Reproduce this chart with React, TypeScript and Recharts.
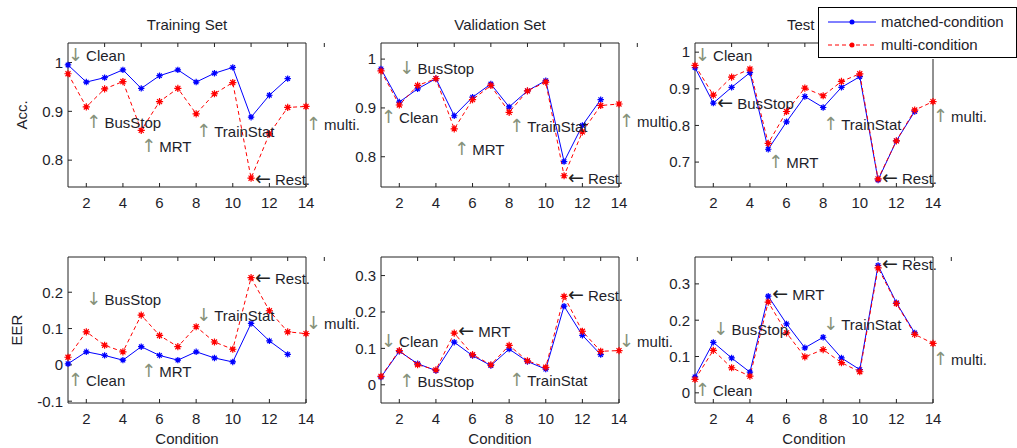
import { LineChart, Line, XAxis, YAxis, ReferenceDot, Legend } from 'recharts'

const FONT = '"Liberation Sans", Arial, sans-serif'
const ARROW_FONT = '"DejaVu Sans", sans-serif'

// condition index on the x axis
const conditions = [1, 2, 3, 4, 5, 6, 7, 8, 9, 10, 11, 12, 13, 14]
const xTicks = [2, 4, 6, 8, 10, 12, 14]

// accuracy
const trainAccMatched = [0.995, 0.96, 0.969, 0.985, 0.947, 0.973, 0.985, 0.96, 0.978, 0.99, 0.888, 0.933, 0.967]
const trainAccMulti = [0.977, 0.909, 0.946, 0.961, 0.861, 0.92, 0.947, 0.895, 0.936, 0.959, 0.763, 0.854, 0.908, 0.91]
const valAccMatched = [0.98, 0.912, 0.939, 0.96, 0.884, 0.922, 0.949, 0.902, 0.935, 0.956, 0.79, 0.864, 0.917]
const valAccMulti = [0.976, 0.906, 0.946, 0.96, 0.857, 0.917, 0.946, 0.891, 0.935, 0.953, 0.761, 0.851, 0.905, 0.908]
const testAccMatched = [0.958, 0.861, 0.904, 0.944, 0.735, 0.81, 0.879, 0.849, 0.904, 0.933, 0.651, 0.758, 0.838]
const testAccMulti = [0.964, 0.883, 0.932, 0.954, 0.751, 0.838, 0.902, 0.881, 0.92, 0.941, 0.654, 0.758, 0.842, 0.865]

// equal error rate
const trainEerMatched = [0.003, 0.036, 0.026, 0.013, 0.05, 0.026, 0.013, 0.036, 0.019, 0.008, 0.114, 0.066, 0.029]
const trainEerMulti = [0.021, 0.091, 0.054, 0.036, 0.137, 0.081, 0.05, 0.105, 0.063, 0.043, 0.24, 0.149, 0.091, 0.086]
const valEerMatched = [0.021, 0.092, 0.058, 0.039, 0.117, 0.08, 0.053, 0.098, 0.064, 0.043, 0.216, 0.136, 0.083]
const valEerMulti = [0.023, 0.094, 0.055, 0.041, 0.142, 0.083, 0.055, 0.108, 0.066, 0.048, 0.243, 0.147, 0.092, 0.094]
const testEerMatched = [0.044, 0.139, 0.096, 0.057, 0.266, 0.19, 0.124, 0.153, 0.096, 0.064, 0.351, 0.248, 0.165]
const testEerMulti = [0.037, 0.117, 0.069, 0.046, 0.25, 0.165, 0.099, 0.119, 0.083, 0.058, 0.344, 0.246, 0.161, 0.136]

// annotations: same names/x for every panel, arrow + y differ
const noteX = [1, 2, 5, 8, 11, 14]
const noteText = ['Clean', 'BusStop', 'MRT', 'TrainStat', 'Rest.', 'multi.']
const trainAccArrows = ['↓', '↑', '↑', '↑', '←', '↑']
const trainAccNoteY = [1.014, 0.877, 0.827, 0.858, 0.759, 0.873]
const valAccArrows = ['↑', '↓', '↑', '↑', '←', '↑']
const valAccNoteY = [0.88, 0.98, 0.814, 0.862, 0.754, 0.872]
const testAccArrows = ['↓', '←', '↑', '↑', '←', '↑']
const testAccNoteY = [0.99, 0.859, 0.697, 0.803, 0.654, 0.823]
const trainEerArrows = ['↑', '↓', '↑', '↓', '←', '↓']
const trainEerNoteY = [-0.044, 0.179, -0.02, 0.135, 0.237, 0.112]
const valEerArrows = ['↓', '↑', '←', '↑', '←', '↓']
const valEerNoteY = [0.119, 0.007, 0.145, 0.011, 0.245, 0.117]
const testEerArrows = ['↑', '↓', '←', '↓', '←', '↑']
const testEerNoteY = [0.005, 0.174, 0.269, 0.188, 0.353, 0.092]

const seriesNames = ['matched-condition', 'multi-condition']
const BLUE = '#0000ff'
const RED = '#ff0000'

const PLOT_W = 238
const ML = 68
const MT = 43
const MR = 85
const MB = 45

const fmt = (v: number) => String(+v.toFixed(2))

function Star(props: any) {
  const { cx, cy, stroke, size } = props
  if (cx == null || cy == null) return <g />
  const r = size
  const d = r * 0.7
  return (
    <g>
      <path
        d={`M${cx - r},${cy}L${cx + r},${cy}M${cx},${cy - r}L${cx},${cy + r}M${cx - d},${cy - d}L${cx + d},${cy + d}M${cx - d},${cy + d}L${cx + d},${cy - d}`}
        stroke={stroke}
        strokeWidth={1.2}
        strokeDasharray="none"
        fill="none"
      />
      <circle cx={cx} cy={cy} r={r * 0.55} fill={stroke} />
    </g>
  )
}

function Note(props: any) {
  const { viewBox, arrow, text } = props
  const side = arrow === '←'
  return (
    <text x={viewBox.x + (side ? 4 : 0)} y={viewBox.y} dy="0.35em" fontFamily={FONT} fontSize={15} fill="#1e1e2a">
      <tspan fontFamily={ARROW_FONT} fontSize={side ? 19 : 18} fill={side ? '#222' : '#87927a'}>{arrow}</tspan>
      <tspan dx={side ? 4 : 3}>{text}</tspan>
    </text>
  )
}

function Title(props: any) {
  const { viewBox, text } = props
  return (
    <text x={viewBox.x + viewBox.width / 2} y={viewBox.y + viewBox.height - 13.5} textAnchor="middle" fontFamily={FONT} fontSize={15} fill="#1e1e2a">
      {text}
    </text>
  )
}

function XTitle(props: any) {
  const { viewBox, text } = props
  return (
    <text x={viewBox.x + viewBox.width / 2} y={viewBox.y + 40.5} textAnchor="middle" fontFamily={FONT} fontSize={15} fill="#1e1e2a">
      {text}
    </text>
  )
}

function YTitle(props: any) {
  const { viewBox, text, dx } = props
  const x = viewBox.x + dx
  const y = viewBox.y + viewBox.height / 2
  return (
    <text x={x} y={y} transform={`rotate(-90 ${x} ${y})`} textAnchor="middle" fontFamily={FONT} fontSize={15} fill="#1e1e2a">
      {text}
    </text>
  )
}

function LegendBox() {
  return (
    <svg width={199} height={52} style={{ display: 'block', background: '#fff' }}>
      <rect x={0.5} y={0.5} width={198} height={50} fill="#fff" stroke="#000" />
      <line x1={10} x2={58} y1={15} y2={15} stroke={BLUE} strokeWidth={1} />
      <circle cx={34} cy={15} r={2.5} fill={BLUE} />
      <text x={63} y={20} fontFamily={FONT} fontSize={15} fill="#1e1e2a">{seriesNames[0]}</text>
      <line x1={10} x2={58} y1={38} y2={38} stroke={RED} strokeWidth={1} strokeDasharray="4 3" />
      <circle cx={34} cy={38} r={2.5} fill={RED} />
      <text x={63} y={43} fontFamily={FONT} fontSize={15} fill="#1e1e2a">{seriesNames[1]}</text>
    </svg>
  )
}

const noTick = () => <g />

function Panel(props: any) {
  const { left, top, plotH, title, xLabel, yLabel, yLabelDx, matched, multi, domain, ticks, arrows, noteY, legend } = props
  const data = conditions.map((c, i) => ({ c, matched: matched[i], multi: multi[i] }))
  const axisStroke = '#222'
  const tickStyle = { fontFamily: FONT, fontSize: 15, fill: '#1e1e2a' }
  return (
    <div style={{ position: 'absolute', left, top }}>
      <LineChart
        width={ML + PLOT_W + MR}
        height={MT + plotH + MB}
        data={data}
        margin={{ top: MT - 1, right: MR - 1, bottom: MB - 1, left: ML - 50 }}
      >
        <XAxis
          dataKey="c"
          type="number"
          domain={[1, 14]}
          ticks={xTicks}
          height={1}
          stroke={axisStroke}
          tickSize={-4}
          tickMargin={14}
          tick={tickStyle}
          label={xLabel ? <XTitle text={xLabel} /> : undefined}
        />
        <XAxis
          xAxisId="t"
          orientation="top"
          type="number"
          domain={[1, 14]}
          ticks={xTicks}
          height={1}
          stroke={axisStroke}
          tickSize={-4}
          tick={noTick}
          label={title ? <Title text={title} /> : undefined}
        />
        <YAxis
          type="number"
          domain={domain}
          ticks={ticks}
          width={50}
          stroke={axisStroke}
          tickSize={-4}
          tickMargin={9}
          tick={tickStyle}
          tickFormatter={fmt}
          label={yLabel ? <YTitle text={yLabel} dx={yLabelDx} /> : undefined}
        />
        <YAxis
          yAxisId="r"
          orientation="right"
          type="number"
          domain={domain}
          ticks={ticks}
          width={1}
          stroke={axisStroke}
          tickSize={-4}
          tick={noTick}
        />
        <Line
          dataKey="matched"
          name={seriesNames[0]}
          stroke={BLUE}
          strokeWidth={1}
          isAnimationActive={false}
          dot={(p: any) => <Star key={`m${p.index}`} {...p} size={3.2} />}
        />
        <Line
          dataKey="multi"
          name={seriesNames[1]}
          stroke={RED}
          strokeWidth={1}
          strokeDasharray="4 3"
          isAnimationActive={false}
          dot={(p: any) => <Star key={`u${p.index}`} {...p} size={3.6} />}
        />
        {noteX.map((x, i) => (
          <ReferenceDot
            key={noteText[i]}
            x={x}
            y={noteY[i]}
            r={0}
            fill="none"
            stroke="none"
            label={<Note arrow={arrows[i]} text={noteText[i]} />}
          />
        ))}
        {legend && (
          <Legend
            layout="vertical"
            align="center"
            verticalAlign="middle"
            wrapperStyle={{ left: 191, top: 7, width: 199, height: 52 }}
            content={<LegendBox />}
          />
        )}
      </LineChart>
    </div>
  )
}

export default function App() {
  return (
    <div style={{ position: 'absolute', left: 0, top: 0, width: 1017, height: 448, background: '#fff', overflow: 'hidden' }}>
      <Panel left={0} top={0} plotH={144} title="Training Set" yLabel="Acc." yLabelDx={9}
        matched={trainAccMatched} multi={trainAccMulti} domain={[0.745, 1.04]} ticks={[0.8, 0.9, 1]}
        arrows={trainAccArrows} noteY={trainAccNoteY} />
      <Panel left={313} top={0} plotH={144} title="Validation Set"
        matched={valAccMatched} multi={valAccMulti} domain={[0.738, 1.033]} ticks={[0.8, 0.9, 1]}
        arrows={valAccArrows} noteY={valAccNoteY} />
      <Panel left={627} top={0} plotH={144} title="Test Set"
        matched={testAccMatched} multi={testAccMulti} domain={[0.632, 1.025]} ticks={[0.7, 0.8, 0.9, 1]}
        arrows={testAccArrows} noteY={testAccNoteY} legend />
      <Panel left={0} top={214} plotH={146} xLabel="Condition" yLabel="EER" yLabelDx={4}
        matched={trainEerMatched} multi={trainEerMulti} domain={[-0.105, 0.297]} ticks={[-0.1, 0, 0.1, 0.2]}
        arrows={trainEerArrows} noteY={trainEerNoteY} />
      <Panel left={313} top={214} plotH={146} xLabel="Condition"
        matched={valEerMatched} multi={valEerMulti} domain={[-0.05, 0.351]} ticks={[0, 0.1, 0.2, 0.3]}
        arrows={valEerArrows} noteY={valEerNoteY} />
      <Panel left={627} top={214} plotH={146} xLabel="Condition"
        matched={testEerMatched} multi={testEerMulti} domain={[-0.028, 0.374]} ticks={[0, 0.1, 0.2, 0.3]}
        arrows={testEerArrows} noteY={testEerNoteY} />
    </div>
  )
}
